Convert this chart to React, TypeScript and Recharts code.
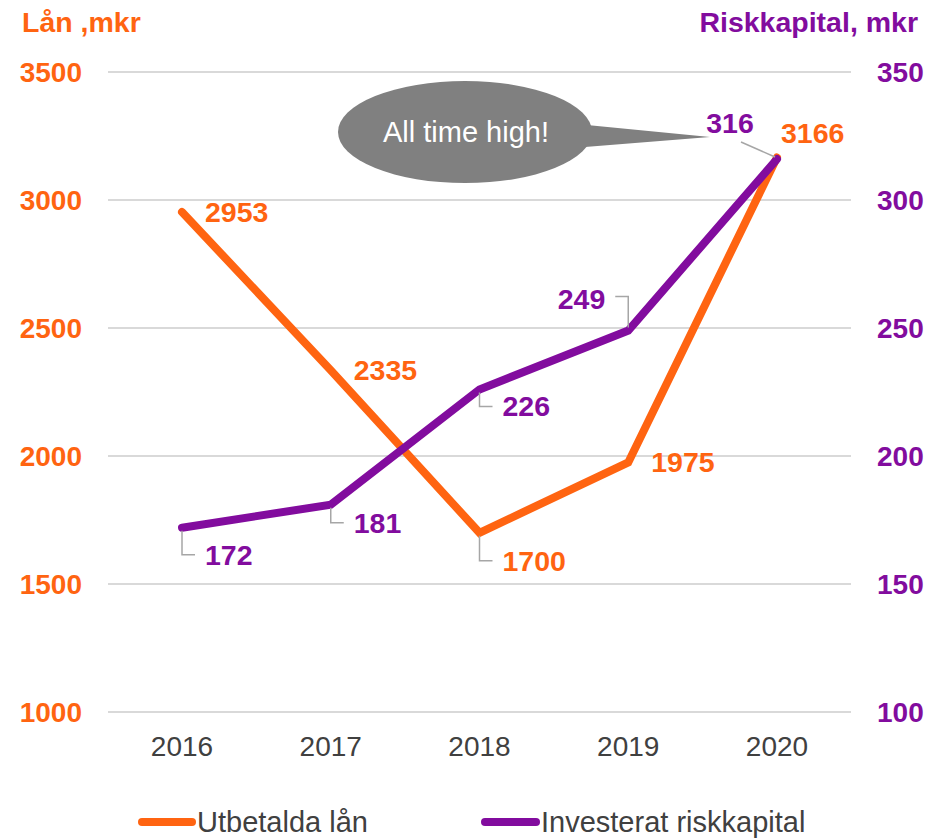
import React from 'react';
import { LineChart, Line, XAxis, YAxis, CartesianGrid, LabelList, Legend, ReferenceDot } from 'recharts';

const years = ['2016', '2017', '2018', '2019', '2020'];
const utbetaldaLan = [2953, 2335, 1700, 1975, 3166];
const riskkapital = [172, 181, 226, 249, 316];
const leftTicks = [1000, 1500, 2000, 2500, 3000, 3500];
const rightTicks = [100, 150, 200, 250, 300, 350];
const seriesNames = ['Utbetalda lån', 'Investerat riskkapital'];
const leftTitle = 'Lån ,mkr';
const rightTitle = 'Riskkapital, mkr';
const calloutText = 'All time high!';

const data = years.map((year, i) => ({ year, lan: utbetaldaLan[i], risk: riskkapital[i] }));

const FONT = '"Liberation Sans", Arial, sans-serif';
const ORANGE = '#FF6411';
const PURPLE = '#820C9E';
const LEADER = '#A6A6A6';
const TEXT = '#404040';

type Placement = { kind: string; len?: number };
const orangePlacement: Placement[] = [
  { kind: 'right' },
  { kind: 'right' },
  { kind: 'down', len: 28 },
  { kind: 'right' },
  { kind: 'aboveRight' },
];
const purplePlacement: Placement[] = [
  { kind: 'down', len: 27 },
  { kind: 'down', len: 18 },
  { kind: 'down', len: 17 },
  { kind: 'upLeft', len: 34 },
  { kind: 'diag' },
];

const makeLabel = (color: string, placements: Placement[]) => (props: any) => {
  const { x, y, value, index } = props;
  const p = placements[index];
  const common = { fill: color, fontSize: 28.5, fontWeight: 700, fontFamily: FONT };
  const B = 10;
  if (p.kind === 'right') {
    return <text x={x + 23} y={y + B} {...common}>{value}</text>;
  }
  if (p.kind === 'aboveRight') {
    return <text x={x + 4} y={y - 25 + B} {...common}>{value}</text>;
  }
  if (p.kind === 'down') {
    const len = p.len || 20;
    return (
      <g>
        <path d={`M${x},${y + 3} V${y + len} H${x + 13}`} stroke={LEADER} strokeWidth={1.5} fill="none" />
        <text x={x + 23} y={y + len + B} {...common}>{value}</text>
      </g>
    );
  }
  if (p.kind === 'upLeft') {
    const len = p.len || 20;
    return (
      <g>
        <path d={`M${x},${y - 3} V${y - len} H${x - 13}`} stroke={LEADER} strokeWidth={1.5} fill="none" />
        <text x={x - 23} y={y - len + 2 + B} textAnchor="end" {...common}>{value}</text>
      </g>
    );
  }
  // diag
  return (
    <g>
      <line x1={x - 2} y1={y - 2} x2={x - 36} y2={y - 17} stroke={LEADER} strokeWidth={1.5} />
      <text x={x - 47} y={y - 36 + B} textAnchor="middle" {...common}>{value}</text>
    </g>
  );
};

const Callout = (props: any) => {
  const { cx, cy } = props;
  if (cx == null || cy == null) return null;
  const ex = cx - 312;
  const ey = cy - 27;
  return (
    <g>
      <polygon
        points={`${cx - 190},${cy - 34} ${cx - 67},${cy - 22} ${cx - 192},${cy - 12}`}
        fill="#808080"
      />
      <ellipse cx={ex} cy={ey} rx={127} ry={51} fill="#808080" />
      <text x={ex + 1} y={ey + 10} textAnchor="middle" fill="#FFFFFF" fontSize={29} fontFamily={FONT}>
        {calloutText}
      </text>
    </g>
  );
};

const renderLegend = () => (
  <svg width={933} height={40} style={{ display: 'block' }}>
    <line x1={142} y1={23} x2={192} y2={23} stroke={ORANGE} strokeWidth={8} strokeLinecap="round" />
    <text x={197} y={33} fill={TEXT} fontSize={29} fontFamily={FONT}>{seriesNames[0]}</text>
    <line x1={485} y1={23} x2={536} y2={23} stroke={PURPLE} strokeWidth={8} strokeLinecap="round" />
    <text x={541} y={33} fill={TEXT} fontSize={29} fontFamily={FONT}>{seriesNames[1]}</text>
  </svg>
);

export default function App() {
  return (
    <div style={{ position: 'absolute', left: 0, top: 0, width: 933, height: 839, background: '#fff', fontFamily: FONT }}>
      <LineChart width={933} height={839} data={data} margin={{ top: 72, right: 0, bottom: 0, left: 0 }}>
        <CartesianGrid vertical={false} stroke="#D9D9D9" strokeWidth={2} yAxisId="left" />
        <XAxis
          dataKey="year"
          axisLine={false}
          tickLine={false}
          tickSize={0}
          tickMargin={24}
          height={87}
          padding={{ left: 74, right: 74 }}
          tick={{ fill: TEXT, fontSize: 28, fontFamily: FONT }}
        />
        <YAxis
          yAxisId="left"
          domain={[1000, 3500]}
          ticks={leftTicks}
          width={108}
          axisLine={false}
          tickLine={false}
          tickSize={0}
          tickMargin={26}
          tick={{ fill: ORANGE, fontSize: 28, fontWeight: 700, fontFamily: FONT }}
          label={{
            content: (p: any) => (
              <text x={p.viewBox.x + 22} y={p.viewBox.y - 40} fill={ORANGE} fontSize={28.5} fontWeight={700} fontFamily={FONT}>
                {leftTitle}
              </text>
            ),
          }}
        />
        <YAxis
          yAxisId="right"
          orientation="right"
          domain={[100, 350]}
          ticks={rightTicks}
          width={82}
          axisLine={false}
          tickLine={false}
          tickSize={0}
          tickMargin={26}
          tick={{ fill: PURPLE, fontSize: 28, fontWeight: 700, fontFamily: FONT }}
          label={{
            content: (p: any) => (
              <text x={p.viewBox.x + 67} y={p.viewBox.y - 40} textAnchor="end" fill={PURPLE} fontSize={28.5} fontWeight={700} fontFamily={FONT}>
                {rightTitle}
              </text>
            ),
          }}
        />
        <Legend verticalAlign="bottom" content={renderLegend} />
        <Line
          yAxisId="left"
          dataKey="lan"
          name={seriesNames[0]}
          stroke={ORANGE}
          strokeWidth={8}
          strokeLinecap="round"
          dot={false}
          activeDot={false}
          isAnimationActive={false}
        >
          <LabelList dataKey="lan" content={makeLabel(ORANGE, orangePlacement)} />
        </Line>
        <Line
          yAxisId="right"
          dataKey="risk"
          name={seriesNames[1]}
          stroke={PURPLE}
          strokeWidth={8}
          strokeLinecap="round"
          dot={false}
          activeDot={false}
          isAnimationActive={false}
        >
          <LabelList dataKey="risk" content={makeLabel(PURPLE, purplePlacement)} />
        </Line>
        <ReferenceDot yAxisId="right" x="2020" y={316} r={0} shape={Callout} />
      </LineChart>
    </div>
  );
}
